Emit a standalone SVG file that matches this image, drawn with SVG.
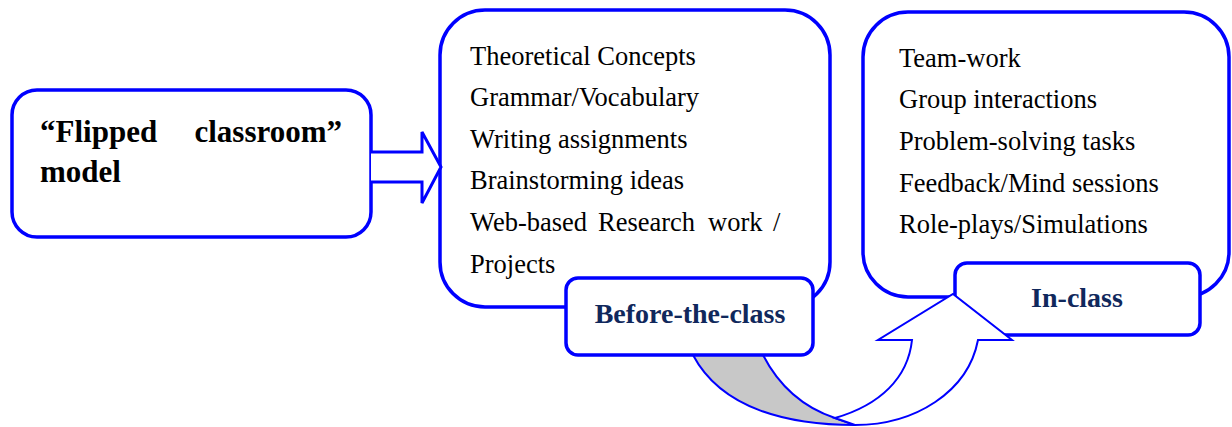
<svg xmlns="http://www.w3.org/2000/svg" width="1232" height="427" viewBox="0 0 1232 427">
<style>
.box{fill:#fff;stroke:#0000ff;stroke-width:3.5}
.lbl{fill:#fff;stroke:#0000ff;stroke-width:3.5}
.body{font-family:"Liberation Serif",serif;font-size:26.5px;fill:#000}
.title{font-family:"Liberation Serif",serif;font-size:31px;font-weight:bold;fill:#000}
.ltxt{font-family:"Liberation Serif",serif;font-size:28px;font-weight:bold;fill:#10285c;text-anchor:middle}
.arr{fill:#fff;stroke:#0000ff;stroke-width:3;stroke-linejoin:miter}
.carr{fill:#fff;stroke:#0000ff;stroke-width:2}
</style>
<rect width="1232" height="427" fill="#fff"/>
<g id="model">
<rect class="box" x="12" y="90" width="359" height="147" rx="25"/>
<text class="title" y="142"><tspan x="40">“Flipped</tspan><tspan x="342" text-anchor="end">classroom”</tspan></text>
<text class="title" x="40" y="182">model</text>
</g>
<g id="before">
<rect class="box" x="440" y="10" width="390" height="297" rx="45"/>
<text class="body" x="470" y="65">Theoretical Concepts</text>
<text class="body" x="470" y="106">Grammar/Vocabulary</text>
<text class="body" x="470" y="148">Writing assignments</text>
<text class="body" x="470" y="189">Brainstorming ideas</text>
<text class="body" y="231"><tspan x="470">Web-based</tspan><tspan x="598">Research</tspan><tspan x="708">work</tspan><tspan x="773">/</tspan></text>
<text class="body" x="470" y="273">Projects</text>
</g>
<g id="inclass">
<rect class="box" x="863" y="12" width="366" height="285" rx="45"/>
<text class="body" x="899" y="67">Team-work</text>
<text class="body" x="899" y="108">Group interactions</text>
<text class="body" x="899" y="150">Problem-solving tasks</text>
<text class="body" x="899" y="192">Feedback/Mind sessions</text>
<text class="body" x="899" y="233">Role-plays/Simulations</text>
</g>
<g id="inclass-label">
<rect class="lbl" x="955" y="263" width="245" height="72" rx="12"/>
<text class="ltxt" x="1077" y="307">In-class</text>
</g>
<g id="connectors">
<path class="arr" d="M371,152 L422,152 L422,132 L441,167 L422,203 L422,182 L371,182"/>
<path d="M693,355 C722,410 790,425 855,425 L835,418 C805,408 780,388 763,355 Z" fill="#c8c8c8" stroke="#0000ff" stroke-width="2"/>
<path class="carr" d="M835,418 C880,405 908,378 912,340 L878,340 L953,294 L1012,340 L978,340 C968,392 915,425 855,425 Z"/>
</g>
<g id="before-label">
<rect class="lbl" x="566" y="278" width="247" height="77" rx="12"/>
<text class="ltxt" x="690" y="323">Before-the-class</text>
</g>
</svg>
